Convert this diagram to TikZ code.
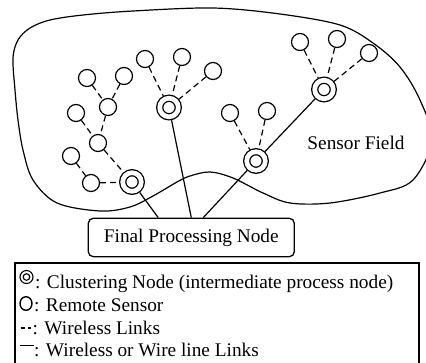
\documentclass[tikz,border=0pt]{standalone}
\usepackage{fontspec}
\setmainfont{Liberation Serif}

\tikzset{
	sensor/.style={circle, draw, line width=1.2pt, minimum size=17pt, inner sep=0pt},
	cluster/.style={circle, draw, double, double distance=4.7pt, line width=1.3pt,
		minimum size=18.6pt, inner sep=0pt, outer sep=3.65pt},
	wireless/.style={line width=1.2pt, dash pattern=on 6pt off 4pt},
	wired/.style={line width=1.2pt},
	legendtext/.style={anchor=base west, inner sep=0pt}
}

\begin{document}
\begin{tikzpicture}[x=1pt, y=-1pt, font=\fontsize{19.3pt}{23pt}\selectfont]
		\clip (0,0) rectangle (426,362);
		% sensor field outline
		\draw[line width=1.2pt] plot[smooth cycle, tension=0.55] coordinates {
			(13,58) (18,40) (30,28) (50,20) (83,15) (133,11) (213,8) (280,14)
			(340,25) (373,43) (400,67) (420,100) (432,140) (413,180) (380,193)
			(330,203) (290,203) (263,193) (233,178) (210,172) (190,176) (177,182)
			(153,196) (130,207) (100,211) (57,203) (33,180) (23,150) (18,120) (15,90)};
		\node (field) at (356,143) {Sensor Field};

		% clustering nodes
		\node[cluster] (ca) at (132,182) {};
		\node[cluster] (cb) at (169,107.5) {};
		\node[cluster] (cc) at (256,161) {};
		\node[cluster] (cd) at (324,89.5) {};

		% remote sensors
		\node[sensor] (a1) at (87,78) {};
		\node[sensor] (a2) at (124,76) {};
		\node[sensor] (a3) at (108,107) {};
		\node[sensor] (a4) at (76,113) {};
		\node[sensor] (a5) at (98,143) {};
		\node[sensor] (a6) at (71,156) {};
		\node[sensor] (a7) at (91,183) {};
		\node[sensor] (b1) at (145,59) {};
		\node[sensor] (b2) at (182,57) {};
		\node[sensor] (b3) at (213,71) {};
		\node[sensor] (c1) at (230,113) {};
		\node[sensor] (c2) at (267,111) {};
		\node[sensor] (d1) at (300,42) {};
		\node[sensor] (d2) at (337,39) {};
		\node[sensor] (d3) at (369,53) {};

		% wireless links
		\draw[wireless] (a1) -- (a3);
		\draw[wireless] (a2) -- (a3);
		\draw[wireless] (a3) -- (a5);
		\draw[wireless] (a4) -- (a5);
		\draw[wireless] (a5) -- (ca);
		\draw[wireless] (a6) -- (a7);
		\draw[wireless] (a7) -- (ca);
		\draw[wireless] (b1) -- (cb);
		\draw[wireless] (b2) -- (cb);
		\draw[wireless] (b3) -- (cb);
		\draw[wireless] (c1) -- (cc);
		\draw[wireless] (c2) -- (cc);
		\draw[wireless] (d1) -- (cd);
		\draw[wireless] (d2) -- (cd);
		\draw[wireless] (d3) -- (cd);

		% final processing node and its links
		\node[draw, rounded corners=5pt, line width=1.3pt, minimum width=206pt,
			minimum height=38.4pt, inner sep=0pt] (fpn) at (191.3,237.5) {Final Processing Node};
		\draw[wired] (cc) -- (cd);
		\draw[wired] (ca) -- (fpn.149);
		\draw[wired] (cb) -- (fpn.north);
		\draw[wired] (cc) -- (fpn.59);

		% legend
		\draw[line width=1.3pt] (15,263) rectangle (419,380);
		\draw[line width=1.1pt] (26.5,277) circle (6.5pt) circle (3.3pt);
		\node[legendtext] (lc) at (35,288.5) {: Clustering Node (intermediate process node)};
		\draw[line width=1.4pt] (26,303.5) ellipse (6pt and 6.8pt);
		\node[legendtext] (ls) at (34,311.5) {: Remote Sensor};
		\draw[line width=1.2pt] (20.5,328) -- (25,328) (27.5,328) -- (31,328);
		\node[legendtext] (lw) at (32.5,334) {: Wireless Links};
		\draw[line width=1.2pt] (20,345.5) -- (34,345.5);
		\node[legendtext] (ll) at (34,356.5) {: Wireless or Wire line Links};
	\end{tikzpicture}
\end{document}
